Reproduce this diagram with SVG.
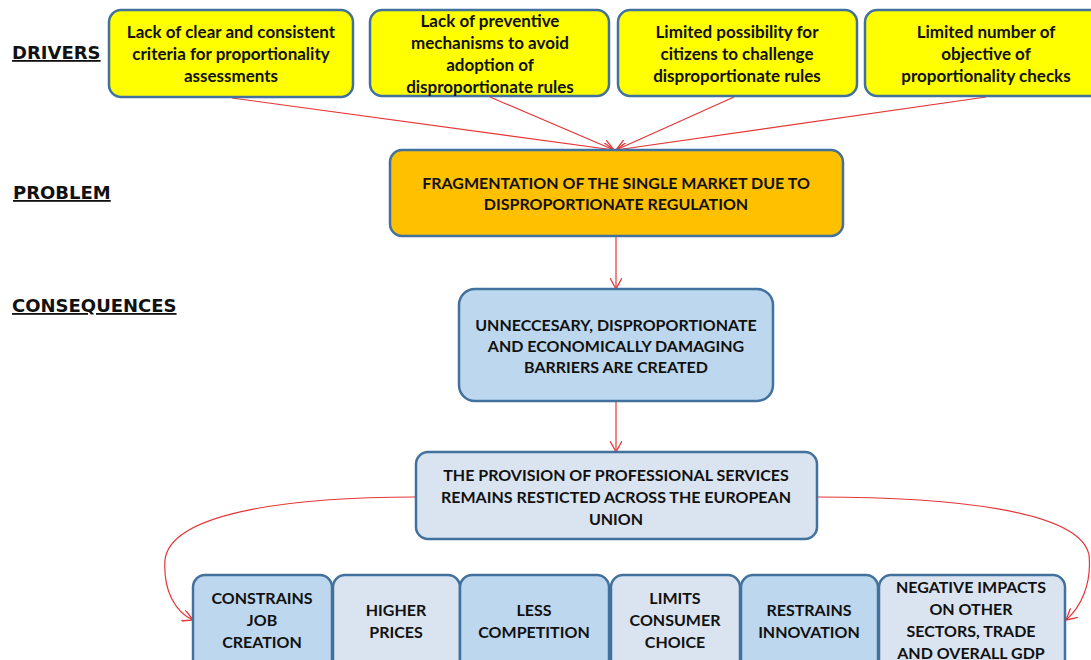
<svg xmlns="http://www.w3.org/2000/svg" width="1091" height="660" viewBox="0 0 1091 660">
<style>
.box{stroke:#41719C;stroke-width:2.5}
.y{fill:#FFFF00}
.o{fill:#FFC000}
.b{fill:#BDD7EE}
.g{fill:#DAE3F0}
.t{font-family:Lato,"Open Sans","Liberation Sans",sans-serif;font-weight:bold;font-size:16px;fill:#111;text-anchor:middle;dominant-baseline:central}
.d{font-size:17px}
.lbl{font-family:"DejaVu Sans",Verdana,sans-serif;font-weight:bold;font-size:18px;fill:#111;text-decoration:underline}
.c{fill:none;stroke:#E53535;stroke-width:1.2}
</style>
<defs>
<marker id="ah" viewBox="0 0 12 12" refX="11" refY="6" markerWidth="12" markerHeight="12" markerUnits="userSpaceOnUse" orient="auto-start-reverse">
<path d="M0,0 L11,6 L0,12" fill="none" stroke="#E53535" stroke-width="1.3"/>
</marker>
</defs>
<rect width="1091" height="660" fill="#fff"/>
<g id="labels">
<text class="lbl" x="12" y="59">DRIVERS</text>
<text class="lbl" x="13" y="199">PROBLEM</text>
<text class="lbl" x="12" y="312">CONSEQUENCES</text>
</g>
<g id="connectors">
<line class="c" x1="232" y1="98" x2="614" y2="150" marker-end="url(#ah)"/>
<line class="c" x1="490" y1="97" x2="614" y2="150" marker-end="url(#ah)"/>
<line class="c" x1="734" y1="97" x2="616" y2="150" marker-end="url(#ah)"/>
<line class="c" x1="986" y1="97" x2="616" y2="150" marker-end="url(#ah)"/>
<line class="c" x1="616" y1="237" x2="616" y2="289" marker-end="url(#ah)"/>
<line class="c" x1="616" y1="402" x2="616" y2="452" marker-end="url(#ah)"/>
<path class="c" d="M416,497 C280,497 170,515 165,560 C163,590 175,612 193,620" marker-end="url(#ah)"/>
<path class="c" d="M817,497 C950,497 1080,510 1089,555 C1092,585 1080,608 1066,620" marker-end="url(#ah)"/>
<line class="c" x1="310" y1="620" x2="352" y2="620" marker-start="url(#ah)" marker-end="url(#ah)"/>
<line class="c" x1="437" y1="620" x2="478" y2="620" marker-start="url(#ah)" marker-end="url(#ah)"/>
<line class="c" x1="588" y1="620" x2="630" y2="620" marker-start="url(#ah)" marker-end="url(#ah)"/>
<line class="c" x1="720" y1="620" x2="762" y2="620" marker-start="url(#ah)" marker-end="url(#ah)"/>
<line class="c" x1="858" y1="620" x2="900" y2="620" marker-start="url(#ah)" marker-end="url(#ah)"/>
</g>
<g id="driver1">
<rect class="box y" x="109" y="10" width="244" height="87" rx="12"/>
<text class="t d" x="231" y="31">Lack of clear and consistent</text>
<text class="t d" x="231" y="53">criteria for proportionality</text>
<text class="t d" x="231" y="75">assessments</text>
</g>
<g id="driver2">
<rect class="box y" x="370" y="10" width="239" height="86" rx="12"/>
<text class="t d" x="490" y="20">Lack of preventive</text>
<text class="t d" x="490" y="42">mechanisms to avoid</text>
<text class="t d" x="490" y="64">adoption of</text>
<text class="t d" x="490" y="86">disproportionate rules</text>
</g>
<g id="driver3">
<rect class="box y" x="618" y="10" width="239" height="86" rx="12"/>
<text class="t d" x="737" y="31">Limited possibility for</text>
<text class="t d" x="737" y="53">citizens to challenge</text>
<text class="t d" x="737" y="75">disproportionate rules</text>
</g>
<g id="driver4">
<rect class="box y" x="865" y="10" width="240" height="86" rx="12"/>
<text class="t d" x="986" y="31">Limited number of</text>
<text class="t d" x="986" y="53">objective of</text>
<text class="t d" x="986" y="75">proportionality checks</text>
</g>
<g id="problem">
<rect class="box o" x="390" y="150" width="453" height="86" rx="12"/>
<text class="t" x="616" y="182">FRAGMENTATION OF THE SINGLE MARKET DUE TO</text>
<text class="t" x="616" y="203">DISPROPORTIONATE REGULATION</text>
</g>
<g id="barriers">
<rect class="box b" x="459" y="289" width="314" height="112" rx="16"/>
<text class="t" x="616" y="324">UNNECCESARY, DISPROPORTIONATE</text>
<text class="t" x="616" y="345">AND ECONOMICALLY DAMAGING</text>
<text class="t" x="616" y="366">BARRIERS ARE CREATED</text>
</g>
<g id="provision">
<rect class="box g" x="416" y="452" width="401" height="87" rx="12"/>
<text class="t" x="616" y="474">THE PROVISION OF PROFESSIONAL SERVICES</text>
<text class="t" x="616" y="496">REMAINS RESTICTED ACROSS THE EUROPEAN</text>
<text class="t" x="616" y="518">UNION</text>
</g>
<g id="jobs">
<rect class="box b" x="193" y="575" width="139" height="100" rx="12"/>
<text class="t" x="262" y="597">CONSTRAINS</text>
<text class="t" x="262" y="619">JOB</text>
<text class="t" x="262" y="641">CREATION</text>
</g>
<g id="prices">
<rect class="box g" x="333" y="575" width="127" height="100" rx="12"/>
<text class="t" x="396" y="609">HIGHER</text>
<text class="t" x="396" y="631">PRICES</text>
</g>
<g id="competition">
<rect class="box b" x="460" y="575" width="149" height="100" rx="12"/>
<text class="t" x="534" y="609">LESS</text>
<text class="t" x="534" y="631">COMPETITION</text>
</g>
<g id="choice">
<rect class="box g" x="611" y="575" width="129" height="100" rx="12"/>
<text class="t" x="675" y="597">LIMITS</text>
<text class="t" x="675" y="619">CONSUMER</text>
<text class="t" x="675" y="641">CHOICE</text>
</g>
<g id="innovation">
<rect class="box b" x="741" y="575" width="137" height="100" rx="12"/>
<text class="t" x="809" y="609">RESTRAINS</text>
<text class="t" x="809" y="631">INNOVATION</text>
</g>
<g id="impacts">
<rect class="box g" x="879" y="575" width="186" height="100" rx="12"/>
<text class="t" x="971" y="586">NEGATIVE IMPACTS</text>
<text class="t" x="971" y="608">ON OTHER</text>
<text class="t" x="971" y="630">SECTORS, TRADE</text>
<text class="t" x="971" y="652">AND OVERALL GDP</text>
</g>
</svg>
